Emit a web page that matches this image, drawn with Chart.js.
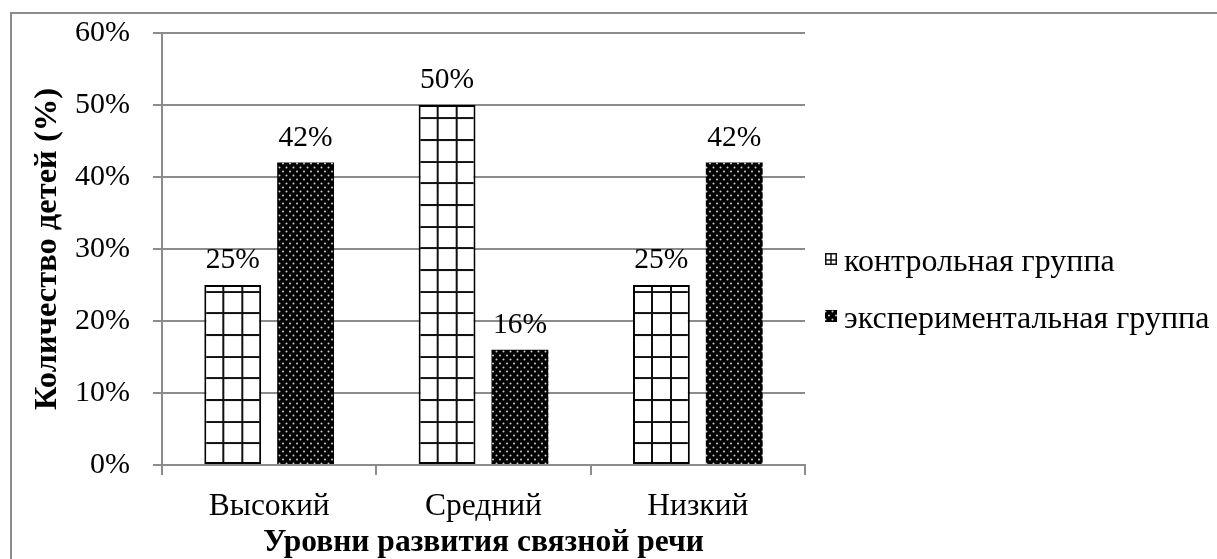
<!DOCTYPE html>
<html>
<head>
<meta charset="utf-8">
<script src="https://cdn.jsdelivr.net/npm/chart.js@4.4.0/dist/chart.umd.min.js"></script>
<style>
    html, body { margin: 0; padding: 0; background: #fff; overflow: hidden; }
    #frame {
        position: absolute; left: 10px; top: 12px;
        width: 1207px; height: 547px;
        border-left: 2px solid #8c8c8c; border-top: 2px solid #8c8c8c;
        box-sizing: border-box;
    }
    #chartBox { position: absolute; left: 0; top: 0; width: 1205px; height: 545px; }
</style>
</head>
<body>
<div id="frame"><div id="chartBox"><canvas id="barChart"></canvas></div></div>
<script>
// уровни и значения (%)
const categories = ['Высокий', 'Средний', 'Низкий'];
const controlValues = [25, 50, 25];
const experimentValues = [42, 16, 42];
const seriesNames = ['контрольная группа', 'экспериментальная группа'];
const yTicks = [0, 10, 20, 30, 40, 50, 60];

const SERIF = '"Liberation Serif", "Times New Roman", serif';
const CAT_PCT = 0.68;
const BAR_PCT = 0.78;

// клетка: 3 столбца по 19px, строки ~21.7px
const gridTile = (() => {
    const c = document.createElement('canvas');
    c.width = 19; c.height = 65;
    const g = c.getContext('2d');
    g.fillStyle = '#fff';
    g.fillRect(0, 0, 19, 65);
    g.fillStyle = '#111';
    g.fillRect(0, 0, 2, 65);
    [0, 22, 43].forEach(y => g.fillRect(0, y, 19, 2));
    return c;
})();

// точки для экспериментальной группы
const dotPattern = (() => {
    const c = document.createElement('canvas');
    c.width = 7; c.height = 8;
    const g = c.getContext('2d');
    g.fillStyle = '#000';
    g.fillRect(0, 0, 7, 8);
    g.fillStyle = '#d0d0d0';
    g.beginPath(); g.arc(1.5, 1.5, 1, 0, Math.PI * 2); g.fill();
    g.beginPath(); g.arc(5, 5.5, 1, 0, Math.PI * 2); g.fill();
    return c.getContext('2d').createPattern(c, 'repeat');
})();

// клетка привязана к левому краю и основанию каждого столбца
function gridFill(context) {
    const chart = context.chart;
    const xs = chart.scales.x, ys = chart.scales.y;
    if (!xs || !ys || context.dataIndex === undefined) return '#fff';
    const catW = xs.width / categories.length;
    const slot = catW * CAT_PCT / 2;
    const center = xs.getPixelForValue(context.dataIndex) - slot / 2;
    const left = center - slot * BAR_PCT / 2;
    const p = chart.ctx.createPattern(gridTile, 'repeat');
    p.setTransform(new DOMMatrix().translate(left - 1, ys.getPixelForValue(0) - 1));
    return p;
}

const valueLabels = {
    id: 'valueLabels',
    afterDatasetsDraw(chart) {
        const ctx = chart.ctx;
        ctx.save();
        ctx.font = '29.5px ' + SERIF;
        ctx.fillStyle = '#000';
        ctx.textAlign = 'center';
        ctx.textBaseline = 'alphabetic';
        chart.data.datasets.forEach((ds, i) => {
            chart.getDatasetMeta(i).data.forEach((bar, j) => {
                ctx.fillText(ds.data[j] + '%', bar.x, bar.y - 17);
            });
        });
        ctx.restore();
    }
};

// легенда справа, как в Excel
const sideLegend = {
    id: 'sideLegend',
    afterDraw(chart) {
        const ctx = chart.ctx;
        const area = chart.chartArea;
        const midY = (area.top + area.bottom) / 2;
        const boxX = area.right + 20;
        ctx.save();
        ctx.font = '32px ' + SERIF;
        ctx.fillStyle = '#000';
        ctx.textBaseline = 'alphabetic';
        chart.data.datasets.forEach((ds, i) => {
            const base = midY + 22 + i * 57;
            const top = base - 18;
            if (i === 0) {
                ctx.fillStyle = '#fff';
                ctx.fillRect(boxX, top, 12, 12);
                ctx.strokeStyle = '#111';
                ctx.lineWidth = 1.5;
                ctx.strokeRect(boxX + 0.75, top + 0.75, 10.5, 10.5);
                ctx.beginPath();
                ctx.moveTo(boxX + 6, top); ctx.lineTo(boxX + 6, top + 12);
                ctx.moveTo(boxX, top + 7); ctx.lineTo(boxX + 12, top + 7);
                ctx.stroke();
            } else {
                ctx.fillStyle = dotPattern;
                ctx.fillRect(boxX, top, 12, 12);
            }
            ctx.fillStyle = '#000';
            ctx.fillText(ds.label, boxX + 19, base);
        });
        ctx.restore();
    }
};

new Chart(document.getElementById('barChart'), {
    type: 'bar',
    data: {
        labels: categories,
        datasets: [{
            label: seriesNames[0],
            data: controlValues,
            backgroundColor: gridFill,
            borderColor: '#000',
            borderWidth: 2,
            borderSkipped: false
        }, {
            label: seriesNames[1],
            data: experimentValues,
            backgroundColor: dotPattern,
            borderWidth: 0
        }]
    },
    options: {
        responsive: true,
        maintainAspectRatio: false,
        animation: false,
        categoryPercentage: CAT_PCT,
        barPercentage: BAR_PCT,
        layout: { padding: { left: 10, top: 19, right: 412, bottom: 0 } },
        plugins: {
            tooltip: { enabled: false },
            legend: { display: false }
        },
        scales: {
            x: {
                afterFit(axis) {
                    axis.height = 94;
                    axis.paddingLeft = 0; axis.paddingRight = 0;
                },
                grid: { drawOnChartArea: false, drawTicks: true, tickLength: 10, color: '#8c8c8c', lineWidth: 2 },
                border: { color: '#8c8c8c', width: 2 },
                ticks: { font: { family: SERIF, size: 31.5 }, color: '#000', padding: 13 },
                title: {
                    display: true, text: 'Уровни развития связной речи',
                    font: { family: SERIF, size: 31.5, weight: 'bold', lineHeight: 1 }, color: '#000',
                    padding: { top: 0, bottom: 0 }
                }
            },
            y: {
                min: 0, max: 60,
                afterFit(axis) {
                    axis.width = 140;
                    axis.paddingTop = 0; axis.paddingBottom = 0;
                },
                afterBuildTicks(axis) { axis.ticks = yTicks.map(v => ({ value: v })); },
                grid: { color: '#8c8c8c', lineWidth: 2, tickLength: 9 },
                border: { color: '#8c8c8c', width: 2 },
                ticks: { font: { family: SERIF, size: 30 }, color: '#000', padding: 23,
                         callback: v => v + '%' },
                title: {
                    display: true, text: 'Количество детей (%)',
                    font: { family: SERIF, size: 32.5, weight: 'bold', lineHeight: 1 }, color: '#000',
                    padding: { top: 9, bottom: 0 }
                }
            }
        }
    },
    plugins: [valueLabels, sideLegend]
});
</script>
</body>
</html>
